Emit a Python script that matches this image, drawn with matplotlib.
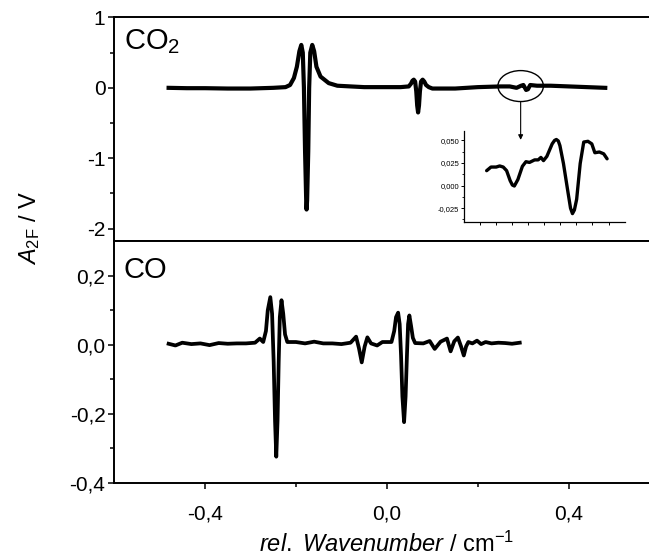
import matplotlib
matplotlib.use("Agg")
import matplotlib.pyplot as plt
from matplotlib.patches import Ellipse
from matplotlib.ticker import MultipleLocator, FixedLocator, NullFormatter, FuncFormatter

plt.rcParams["font.family"] = ["Liberation Sans", "DejaVu Sans"]
plt.rcParams["mathtext.fontset"] = "custom"
plt.rcParams["mathtext.rm"] = "Liberation Sans"
plt.rcParams["mathtext.it"] = "Liberation Sans:italic"
plt.rcParams["axes.unicode_minus"] = False

# CO2 trace (rel. wavenumber / cm-1, signal / V)
co2_x = [-0.48, -0.44, -0.40, -0.35, -0.30, -0.25, -0.223, -0.213, -0.2045, -0.198,
         -0.1925, -0.1883, -0.185, -0.1825, -0.180, -0.1775, -0.1767, -0.1755, -0.173,
         -0.171, -0.1685, -0.1642, -0.160, -0.155, -0.146, -0.128, -0.109, -0.08,
         -0.05, 0.0, 0.03, 0.048, 0.053, 0.056, 0.059, 0.062, 0.0645, 0.0665, 0.0685,
         0.0705, 0.0725, 0.075, 0.0785, 0.082, 0.086, 0.092, 0.10, 0.15, 0.20,
         0.25, 0.27, 0.285, 0.295, 0.30, 0.306, 0.31, 0.315, 0.33, 0.36, 0.40, 0.44, 0.48]
co2_y = [0.0, -0.005, -0.005, -0.01, -0.01, 0.0, 0.01, 0.04, 0.14, 0.30,
         0.52, 0.61, 0.50, 0.0, -0.9, -1.6, -1.73, -1.6, -0.9,
         0.0, 0.50, 0.61, 0.52, 0.30, 0.16, 0.067, 0.03, 0.02,
         0.01, 0.01, 0.01, 0.02, 0.06, 0.10, 0.116, 0.09, -0.05, -0.25, -0.35,
         -0.25, -0.05, 0.09, 0.116, 0.09, 0.04, 0.01, -0.01, -0.01, 0.01,
         0.02, 0.02, 0.0, 0.03, 0.04, -0.03, -0.02, 0.04, 0.03, 0.03, 0.02, 0.01, 0.0]

# CO trace
co_x = [-0.48, -0.465, -0.45, -0.43, -0.41, -0.39, -0.37, -0.35, -0.33, -0.31, -0.29,
        -0.2795, -0.272, -0.266, -0.262, -0.2564, -0.2525, -0.249, -0.246, -0.2433,
        -0.2405, -0.238, -0.2355, -0.2318, -0.228, -0.224, -0.219, -0.20, -0.18, -0.16,
        -0.14, -0.12, -0.10, -0.08, -0.0678, -0.0615, -0.0554, -0.049, -0.043, -0.035,
        -0.0216, -0.01, 0.010, 0.016, 0.020, 0.0246, 0.028, 0.031, 0.034, 0.0377, 0.041,
        0.044, 0.0465, 0.0493, 0.053, 0.057, 0.062, 0.08, 0.094, 0.105, 0.118, 0.132,
        0.14, 0.148, 0.156, 0.163, 0.169, 0.174, 0.179, 0.188, 0.198, 0.207, 0.217, 0.23,
        0.245, 0.26, 0.275, 0.292]
co_y = [0.003, -0.002, 0.006, 0.002, 0.004, -0.001, 0.005, 0.003, 0.004, 0.004, 0.006,
        0.018, 0.008, 0.04, 0.10, 0.138, 0.09, -0.05, -0.22, -0.324,
        -0.22, -0.05, 0.08, 0.129, 0.09, 0.03, 0.008, 0.008, 0.004, 0.009,
        0.004, 0.004, 0.002, 0.006, 0.0235, -0.01, -0.051, -0.005, 0.0215, 0.004,
        -0.002, 0.008, 0.008, 0.04, 0.08, 0.093, 0.06, -0.03, -0.15, -0.224, -0.15,
        -0.03, 0.06, 0.085, 0.055, 0.02, 0.005, 0.004, 0.011, -0.012, 0.009, 0.018,
        -0.019, 0.01, 0.021, -0.005, -0.031, -0.005, 0.008, 0.004, 0.012, 0.002, 0.008,
        0.004, 0.006, 0.005, 0.003, 0.006]

# inset (zoom on the ellipse region)
inset_x = [0.2643, 0.267, 0.2702, 0.2724, 0.2746, 0.2767, 0.2789, 0.2803, 0.2815,
           0.2837, 0.2865, 0.2887, 0.2909, 0.2941, 0.2963, 0.298, 0.2996, 0.3017,
           0.305, 0.3065, 0.3076, 0.3088, 0.3098, 0.312, 0.3148, 0.3164, 0.3176,
           0.3188, 0.3202, 0.3224, 0.3246, 0.3272, 0.3296, 0.3315, 0.3343, 0.337, 0.3391]
inset_y = [0.0164, 0.0204, 0.0204, 0.0216, 0.0204, 0.0164, 0.0054, 0.0005, -0.0005,
           0.0066, 0.0212, 0.0263, 0.0255, 0.0283, 0.0283, 0.031, 0.0275, 0.0322,
           0.046, 0.0498, 0.0508, 0.0492, 0.0441, 0.0243, -0.0073, -0.025, -0.031,
           -0.027, -0.0152, 0.0243, 0.048, 0.0488, 0.046, 0.0362, 0.037, 0.035, 0.0295]


def comma(v, pos):
    s = f"{v:.1f}".replace(".", ",")
    if s == "-0,0":
        s = "0,0"
    return s


fig = plt.figure(figsize=(6.49, 5.57), dpi=100)
left, width = 0.1757, 0.841
ax1 = fig.add_axes([left, 0.567, width, 0.4016])
ax2 = fig.add_axes([left, 0.133, width, 0.434])

lw_sp = 1.4
for ax in (ax1, ax2):
    ax.set_xlim(-0.6, 0.6)
    ax.spines["right"].set_visible(False)
    for s in ("left", "top", "bottom"):
        ax.spines[s].set_linewidth(lw_sp)
    ax.tick_params(axis="both", which="major", labelsize=15, width=1.1, length=4.2,
                   direction="out", pad=2)
    ax.tick_params(axis="both", which="minor", width=1.1, length=2.6, direction="out")

ax1.plot(co2_x, co2_y, color="black", lw=3.0, solid_joinstyle="round")
ax1.set_ylim(-2.18, 1.0)
ax1.yaxis.set_major_locator(MultipleLocator(1))
ax1.yaxis.set_minor_locator(MultipleLocator(0.5))
ax1.yaxis.set_major_formatter(FuncFormatter(lambda v, p: f"{v:.0f}".replace("-0", "0") if abs(v) < 0.5 else f"{v:.0f}"))
ax1.xaxis.set_major_locator(FixedLocator([-0.4, -0.2, 0.0, 0.2, 0.4]))
ax1.xaxis.set_major_formatter(NullFormatter())
ax1.tick_params(axis="x", which="both", top=False, bottom=True, length=4.2)
ax1.text(0.018, 0.955, "CO$_{2}$", transform=ax1.transAxes, fontsize=21,
         va="top", ha="left")

# marker ellipse and arrow pointing to the inset
ax1.add_patch(Ellipse((0.294, 0.025), 0.1, 0.44, fill=False, lw=1.0, color="black"))
ax1.annotate("", xy=(0.294, -0.74), xytext=(0.294, -0.2),
             arrowprops=dict(arrowstyle="-|>", lw=0.8, color="black",
                             mutation_scale=7, shrinkA=0, shrinkB=0))

ins = ax1.inset_axes([0.6405, 0.0868, 0.295, 0.405])
ins.plot(inset_x, inset_y, color="black", lw=2.4, solid_joinstyle="round",
         solid_capstyle="round")
ins.set_xlim(0.25, 0.35)
ins.set_ylim(-0.04, 0.06)
ins.xaxis.set_major_locator(FixedLocator([0.26, 0.27, 0.28, 0.29, 0.30, 0.31, 0.32, 0.33, 0.34]))
ins.xaxis.set_major_formatter(NullFormatter())
ins.yaxis.set_major_locator(FixedLocator([-0.025, 0.0, 0.025, 0.05]))
ins.yaxis.set_minor_locator(FixedLocator([-0.0375, -0.0125, 0.0125, 0.0375]))
ins.yaxis.set_major_formatter(FuncFormatter(lambda v, p: f"{v:.3f}".replace(".", ",")))
ins.spines["right"].set_visible(False)
ins.spines["top"].set_visible(False)
ins.spines["left"].set_linewidth(0.9)
ins.spines["bottom"].set_linewidth(0.9)
ins.tick_params(axis="both", which="major", labelsize=5.5, length=2, width=0.7, pad=1)
ins.tick_params(axis="y", which="minor", length=1.2, width=0.6)
ins.patch.set_alpha(0)

ax2.plot(co_x, co_y, color="black", lw=2.7, solid_joinstyle="round")
ax2.set_ylim(-0.4, 0.3)
ax2.yaxis.set_major_locator(FixedLocator([-0.4, -0.2, 0.0, 0.2]))
ax2.yaxis.set_minor_locator(FixedLocator([-0.3, -0.1, 0.1]))
ax2.yaxis.set_major_formatter(FuncFormatter(comma))
ax2.xaxis.set_major_locator(FixedLocator([-0.4, 0.0, 0.4]))
ax2.xaxis.set_minor_locator(FixedLocator([-0.2, 0.2]))
ax2.xaxis.set_major_formatter(FuncFormatter(comma))
ax2.tick_params(axis="x", which="major", pad=11)
ax2.text(0.018, 0.94, "CO", transform=ax2.transAxes, fontsize=21,
         va="top", ha="left")

fig.text(0.595, 0.009, r"$\mathit{rel.}$ $\mathit{Wavenumber}$ / cm$^{-1}$",
         fontsize=17, ha="center", va="baseline")
fig.text(0.045, 0.591, r"$A_{\mathrm{2F}}$ / V", rotation=90, fontsize=17,
         ha="center", va="center")

fig.savefig("out.png", dpi=100)
